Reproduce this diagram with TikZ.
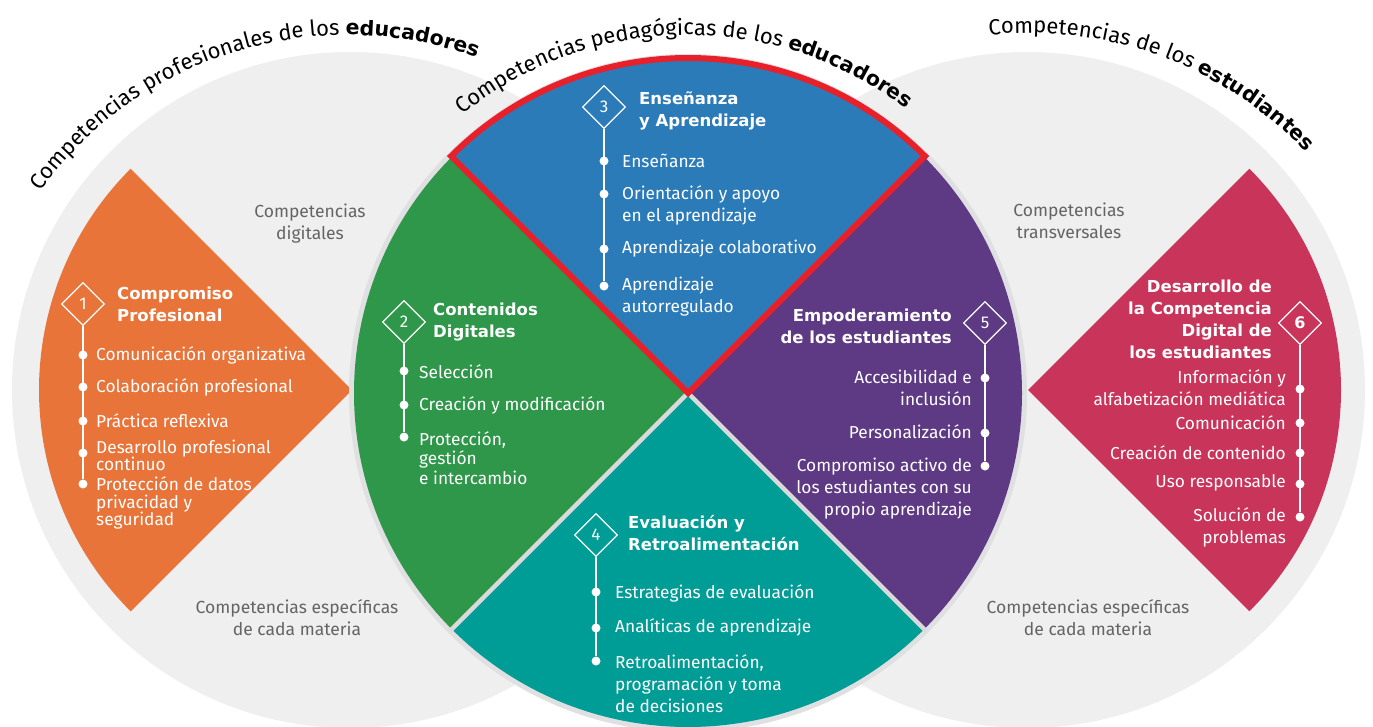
\documentclass[tikz,border=0pt]{standalone}
\usepackage{fontspec}
\setmainfont{Fira Sans}
\newfontfamily\headfont{DejaVu Sans}
\usetikzlibrary{shapes.geometric}
\usetikzlibrary{decorations.text}
\usetikzlibrary{graphs}
\definecolor{bggray}{RGB}{239,239,239}
\definecolor{ringgray}{RGB}{224,224,226}
\definecolor{sepgray}{RGB}{218,218,218}
\definecolor{txtgray}{RGB}{100,100,100}
\definecolor{corange}{RGB}{233,116,58}
\definecolor{cgreen}{RGB}{46,151,73}
\definecolor{cblue}{RGB}{44,123,185}
\definecolor{cteal}{RGB}{0,157,150}
\definecolor{cpurple}{RGB}{93,58,131}
\definecolor{cpink}{RGB}{200,52,90}
\definecolor{cred}{RGB}{232,32,42}
\tikzset{
  num/.style= {draw=white, diamond, aspect=1, inner sep=0pt, minimum size=43pt, line width=1.2pt, text=white, font=\fontsize{17}{17}\selectfont},
  dot/.style= {circle, fill=white, inner sep=0pt, minimum size=9pt},
  head/.style= {text=white, inner sep=0pt, font=\fontsize{16.5}{22}\selectfont\headfont\bfseries},
  item/.style= {text=white, inner sep=0pt, font=\fontsize{17.3}{22}\selectfont},
  tight/.style= {font=\fontsize{17.3}{17.5}\selectfont},
  note/.style= {text=txtgray, inner sep=0pt, align=center, font=\fontsize{17.5}{22}\selectfont},
  sep/.style= {draw=sepgray, line width=4.5pt},
  rim/.style= {draw=cred, line width=6pt, line join=miter},
  spine/.style= {white, line width=1.5pt},
}

\begin{document}
\begin{tikzpicture}[x=1pt, y=1pt]
  \useasboundingbox (0,0) rectangle (1373,-726);
  \fill[white] (0,0) rectangle (1373,-726);

  \fill[bggray] (350,-390) circle (338);
  \fill[bggray] (1027,-390) circle (338);
  \fill[corange] (352,-390) -- ++(135:313) arc (135:225:313) -- cycle;
  \fill[cpink] (1028,-390) -- ++(-45:313) arc (-45:45:313) -- cycle;

  \coordinate (c) at (688,-393);
  \draw[draw=ringgray, line width=6pt, fill=bggray] (c) circle (336);
  \fill[cgreen] (c) -- ++(135:334) arc (135:225:334) -- cycle;
  \fill[cteal] (c) -- ++(225:334) arc (225:315:334) -- cycle;
  \fill[cpurple] (c) -- ++(-45:334) arc (-45:45:334) -- cycle;
  \fill[cblue] (c) -- ++(45:334) arc (45:135:334) -- cycle;
  \draw[sep] (c) -- ++(225:336);
  \draw[sep] (c) -- ++(315:336);
  \draw[rim] (c) -- ++(45:335) arc (45:135:335) -- cycle;

  \path[decorate, decoration={text along path, text align=left,
    text={|\fontsize{22}{26}\selectfont|Competencias profesionales de los |\fontsize{20.5}{26}\selectfont\headfont\bfseries|educadores}}]
    (347,-414) ++(144:379) arc (144:45:379);
  \path[decorate, decoration={text along path, text align=left,
    text={|\fontsize{22}{26}\selectfont|Competencias pedagógicas de los |\fontsize{20.5}{26}\selectfont\headfont\bfseries|educadores}}]
    (688,-393) ++(129:358) arc (129:30:358);
  \path[decorate, decoration={text along path, text align=left,
    text={|\fontsize{22}{26}\selectfont|Competencias de los |\fontsize{20.5}{26}\selectfont\headfont\bfseries|estudiantes}}]
    (1029,-414) ++(96:381) arc (96:15:381);

  \node [note] (cd) at (310,-224) {Competencias\\digitales};
  \node [note] (ce1) at (297,-618) {Competencias específicas\\de cada materia};
  \node [note] (ct) at (1069,-221) {Competencias\\transversales};
  \node [note] (ce2) at (1088,-618) {Competencias específicas\\de cada materia};

  \node [num] (n1) at (83,-304) {1};
  \node [head, anchor=west, align=left] (h1) at (117,-304) {Compromiso\\Profesional};
  \node [dot] (o1) at (83,-355) {};
  \node [dot] (o2) at (83,-387) {};
  \node [dot] (o3) at (83,-421) {};
  \node [dot] (o4) at (83,-453) {};
  \node [dot] (o5) at (83,-484) {};
  \node [item, anchor=west] (o1t) at (96,-355) {Comunicación organizativa};
  \node [item, anchor=west] (o2t) at (96,-387) {Colaboración profesional};
  \node [item, anchor=west] (o3t) at (96,-421) {Práctica reflexiva};
  \node [item, tight, anchor=west, align=left] (o4t) at (96,-455.5) {Desarrollo profesional\\continuo};
  \node [item, tight, anchor=west, align=left] (o5t) at (96,-503) {Protección de datos\\privacidad y\\seguridad};

  \node [num] (n2) at (404,-322) {2};
  \node [head, anchor=west, align=left] (h2) at (433,-322) {Contenidos\\Digitales};
  \node [dot] (g1) at (404,-371) {};
  \node [dot] (g2) at (404,-405) {};
  \node [dot] (g3) at (404,-437) {};
  \node [item, anchor=west] (g1t) at (419,-372) {Selección};
  \node [item, anchor=west] (g2t) at (419,-405) {Creación y modificación};
  \node [item, anchor=west, align=left, font=\fontsize{17.3}{19.5}\selectfont] (g3t) at (419,-458) {Protección,\\gestión\\e intercambio};

  \node [num] (n3) at (604,-107) {3};
  \node [head, anchor=west, align=left] (h3) at (639,-111) {Enseñanza\\y Aprendizaje};
  \node [dot] (b1) at (604,-161) {};
  \node [dot] (b2) at (604,-194) {};
  \node [dot] (b3) at (604,-249) {};
  \node [dot] (b4) at (604,-286) {};
  \node [item, anchor=west] (b1t) at (622,-161) {Enseñanza};
  \node [item, anchor=west, align=left] (b2t) at (622,-205) {Orientación y apoyo\\en el aprendizaje};
  \node [item, anchor=west] (b3t) at (622,-249) {Aprendizaje colaborativo};
  \node [item, anchor=west, align=left] (b4t) at (622,-297) {Aprendizaje\\autorregulado};

  \node [num] (n4) at (596,-535) {4};
  \node [head, anchor=west, align=left] (h4) at (628,-533.5) {Evaluación y\\Retroalimentación};
  \node [dot] (t1) at (596,-592) {};
  \node [dot] (t2) at (596,-628) {};
  \node [dot] (t3) at (596,-661) {};
  \node [item, anchor=west] (t1t) at (615,-593) {Estrategias de evaluación};
  \node [item, anchor=west] (t2t) at (615,-627) {Analíticas de aprendizaje};
  \node [item, anchor=west, align=left] (t3t) at (615,-684) {Retroalimentación,\\programación y toma\\de decisiones};

  \node [num] (n5) at (985,-323) {5};
  \node [head, anchor=east, align=right] (h5) at (952,-326.5) {Empoderamiento\\de los estudiantes};
  \node [dot] (p1) at (985,-378) {};
  \node [dot] (p2) at (985,-433) {};
  \node [dot] (p3) at (985,-466) {};
  \node [item, anchor=east, align=right] (p1t) at (972,-388) {Accesibilidad e\\inclusión};
  \node [item, anchor=east] (p2t) at (972,-432) {Personalización};
  \node [item, anchor=east, align=right] (p3t) at (972,-489) {Compromiso activo de\\los estudiantes con su\\propio aprendizaje};

  \node [num, font=\fontsize{16}{16}\selectfont\headfont\bfseries] (n6) at (1300,-323) {6};
  \node [head, anchor=east, align=right] (h6) at (1272,-319) {Desarrollo de\\la Competencia\\Digital de\\los estudiantes};
  \node [dot] (k1) at (1300,-389) {};
  \node [dot] (k2) at (1300,-423) {};
  \node [dot] (k3) at (1300,-453) {};
  \node [dot] (k4) at (1300,-484) {};
  \node [dot] (k5) at (1300,-517) {};
  \node [item, anchor=east, align=right] (k1t) at (1286,-388) {Información y\\alfabetización mediática};
  \node [item, anchor=east] (k2t) at (1286,-423) {Comunicación};
  \node [item, anchor=east] (k3t) at (1286,-453) {Creación de contenido};
  \node [item, anchor=east] (k4t) at (1286,-483) {Uso responsable};
  \node [item, anchor=east, align=right] (k5t) at (1286,-527) {Solución de\\problemas};

  \graph {
    { [edges={spine}] (n1) -- (o5) } ;
    { [edges={spine}] (n2) -- (g3) } ;
    { [edges={spine}] (n3) -- (b4) } ;
    { [edges={spine}] (n4) -- (t3) } ;
    { [edges={spine}] (n5) -- (p3) } ;
    { [edges={spine}] (n6) -- (k5) } ;
  } ;
\end{tikzpicture}
\end{document}
